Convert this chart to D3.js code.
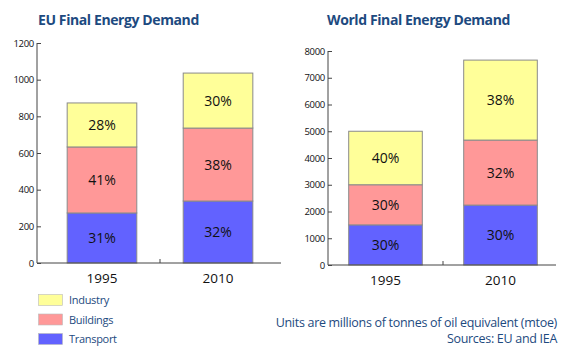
<!DOCTYPE html>
<html><head><meta charset="utf-8">
<script src="https://cdn.jsdelivr.net/npm/d3@7"></script>
<style>body{margin:0;background:#fff}svg{display:block}text{font-family:"Open Sans","Noto Sans",sans-serif}</style>
</head><body><svg id="c" width="563" height="347"></svg>
<script>
const years = ["1995", "2010"];
const sectors = ["Transport", "Buildings", "Industry"];
const colors = ["#6262ff", "#ff9898", "#ffff99"];
const euTransport = [273, 338];
const euBuildings = [360, 398];
const euIndustry = [240, 300];
const euPct = [["31%", "41%", "28%"], ["32%", "38%", "30%"]];
const worldTransport = [1500, 2240];
const worldBuildings = [1500, 2430];
const worldIndustry = [2000, 2990];
const worldPct = [["30%", "30%", "40%"], ["30%", "32%", "38%"]];
const euTicks = [0, 200, 400, 600, 800, 1000, 1200];
const worldTicks = [0, 1000, 2000, 3000, 4000, 5000, 6000, 7000, 8000];

const svg = d3.select("#c");
const navy = "#1d4a80";

function chart(cfg) {
  const g = svg.append("g");
  const y = d3.scaleLinear().domain([0, cfg.max]).range([cfg.y0, cfg.y1]);
  const x = d3.scaleBand().domain(years).range([cfg.x0, cfg.x1]).paddingInner(cfg.pin).paddingOuter(cfg.pout);
  const rows = years.map((yr, i) => [cfg.t[i], cfg.b[i], cfg.ind[i]]);
  const stack = d3.stack().keys([0, 1, 2])(rows);
  stack.forEach((layer, k) => {
    layer.forEach((d, i) => {
      g.append("rect").attr("x", x(years[i])).attr("width", x.bandwidth())
        .attr("y", y(d[1])).attr("height", y(d[0]) - y(d[1]))
        .attr("fill", colors[k]).attr("stroke", "#8a8a8a").attr("stroke-width", 1);
      g.append("text").attr("x", x(years[i]) + x.bandwidth() / 2)
        .attr("y", (y(d[0]) + y(d[1])) / 2 + 5).attr("text-anchor", "middle")
        .attr("font-size", 14).attr("fill", "#111").text(cfg.pct[i][k]);
    });
  });
  const ay = d3.axisLeft(y).tickValues(cfg.ticks).tickSize(-4).tickPadding(3).tickFormat(d3.format("d"));
  const ga = g.append("g").attr("transform", `translate(${cfg.x0},0)`).call(ay);
  ga.select(".domain").attr("d", `M${0},${cfg.y1}V${cfg.y0}`).attr("stroke", "#444");
  ga.selectAll(".tick line").attr("stroke", "#444");
  ga.selectAll(".tick text").attr("font-size", 9.5).attr("fill", "#111").attr("font-family", "'Liberation Sans Narrow','Liberation Sans',sans-serif").attr("letter-spacing", "-0.3px");
  const ax = d3.axisBottom(x).tickSize(0).tickPadding(10);
  const gx = g.append("g").attr("transform", `translate(0,${cfg.y0})`).call(ax);
  gx.select(".domain").attr("d", `M${cfg.x0},0H${cfg.xEnd}`).attr("stroke", "#444");
  gx.selectAll(".tick text").attr("font-size", 13.5).attr("fill", "#111");
  const mid = (x(years[0]) + x.bandwidth() + x(years[1])) / 2;
  g.append("line").attr("x1", mid).attr("x2", mid).attr("y1", cfg.y0).attr("y2", cfg.y0 - 4).attr("stroke", "#444");
  g.append("text").attr("x", cfg.tx).attr("y", 25).attr("font-size", 14).attr("font-weight", "bold")
    .attr("fill", navy).attr("letter-spacing", "-0.4px").text(cfg.title);
}

chart({max: 1200, y0: 263, y1: 43, x0: 37, x1: 283, xEnd: 281, pin: 0.40, pout: 0.26,
  t: euTransport, b: euBuildings, ind: euIndustry, pct: euPct, ticks: euTicks,
  title: "EU Final Energy Demand", tx: 38});
chart({max: 8000, y0: 265, y1: 51, x0: 328, x1: 558, xEnd: 556, pin: 0.36, pout: 0.18,
  t: worldTransport, b: worldBuildings, ind: worldIndustry, pct: worldPct, ticks: worldTicks,
  title: "World Final Energy Demand", tx: 327});

const legendOrder = [2, 1, 0];
legendOrder.forEach((k, j) => {
  svg.append("rect").attr("x", 38.5).attr("y", 294.5 + j * 19.5).attr("width", 24).attr("height", 11)
    .attr("fill", colors[k]).attr("stroke", "#bbb").attr("stroke-width", 0.6);
  svg.append("text").attr("x", 69).attr("y", 304 + j * 19.5).attr("font-size", 11)
    .attr("fill", navy).attr("letter-spacing", "-0.3px").text(sectors[k]);
});
svg.append("text").attr("x", 557).attr("y", 327).attr("text-anchor", "end").attr("font-size", 12.5)
  .attr("fill", navy).attr("letter-spacing", "-0.3px").text("Units are millions of tonnes of oil equivalent (mtoe)");
svg.append("text").attr("x", 557).attr("y", 342.5).attr("text-anchor", "end").attr("font-size", 12.5)
  .attr("fill", navy).attr("letter-spacing", "-0.3px").text("Sources: EU and IEA");
</script></body></html>
